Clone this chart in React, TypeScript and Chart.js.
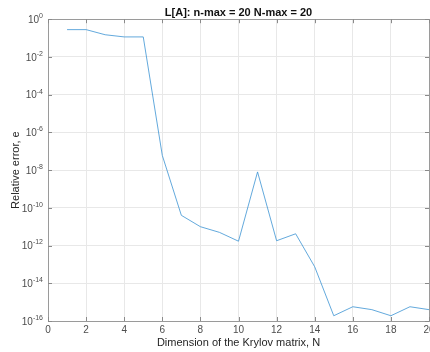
import React, { useEffect, useRef } from 'react';
import { Chart, registerables } from 'chart.js';

Chart.register(...registerables);

const nValues = [1, 2, 3, 4, 5, 6, 7, 8, 9, 10, 11, 12, 13, 14, 15, 16, 17, 18, 19, 20];
const relErrors = [
  0.28, 0.28, 0.15, 0.115, 0.115, 6e-8, 4e-11, 1e-11, 5e-12, 1.7e-12,
  8e-9, 1.8e-12, 4.2e-12, 7.5e-14, 1.9e-16, 5.7e-16, 4e-16, 1.9e-16, 5.7e-16, 4e-16,
];
const yTickExponents = [0, -2, -4, -6, -8, -10, -12, -14, -16];
const xTickValues = [0, 2, 4, 6, 8, 10, 12, 14, 16, 18, 20];

const titleText = 'L[A]: n-max = 20 N-max = 20';
const xLabel = 'Dimension of the Krylov matrix, N';
const yLabel = 'Relative error, e';

const FONT = "'Liberation Sans', Arial, Helvetica, sans-serif";
const AXIS_COLOR = '#9a9a9a';
const GRID_COLOR = '#e8e8e8';
const TICK_TEXT = '#4d4d4d';

const framePlugin = {
  id: 'matlabFrame',
  afterDraw(chart: any) {
    const { ctx, chartArea } = chart;
    const xs = chart.scales.x;
    const ys = chart.scales.y;
    const { left, right, top, bottom } = chartArea;
    ctx.save();
    // frame top and right
    ctx.strokeStyle = AXIS_COLOR;
    ctx.lineWidth = 1;
    ctx.beginPath();
    ctx.moveTo(left, Math.round(top) + 0.5);
    ctx.lineTo(right + 0.5, Math.round(top) + 0.5);
    ctx.lineTo(Math.round(right) + 0.5, bottom);
    ctx.stroke();
    // inward ticks
    ctx.strokeStyle = '#8a8a8a';
    ctx.beginPath();
    const tl = 4;
    xTickValues.forEach((v) => {
      const px = Math.round(xs.getPixelForValue(v)) + 0.5;
      ctx.moveTo(px, bottom);
      ctx.lineTo(px, bottom - tl);
      ctx.moveTo(px, top);
      ctx.lineTo(px, top + tl);
    });
    yTickExponents.forEach((e) => {
      const py = Math.round(ys.getPixelForValue(Math.pow(10, e))) + 0.5;
      ctx.moveTo(left, py);
      ctx.lineTo(left + tl, py);
      ctx.moveTo(right, py);
      ctx.lineTo(right - tl, py);
    });
    ctx.stroke();
    // y tick labels 10^e
    ctx.fillStyle = TICK_TEXT;
    ctx.textBaseline = 'middle';
    ctx.textAlign = 'left';
    yTickExponents.forEach((e) => {
      const py = ys.getPixelForValue(Math.pow(10, e));
      const expText = String(e);
      ctx.font = `10px ${FONT}`;
      const w10 = ctx.measureText('10').width;
      ctx.font = `7px ${FONT}`;
      const wExp = ctx.measureText(expText).width;
      const x0 = left - 5 - w10 - wExp;
      ctx.font = `10px ${FONT}`;
      ctx.fillText('10', x0, py + 1);
      ctx.font = `7px ${FONT}`;
      ctx.fillText(expText, x0 + w10, py - 3);
    });
    ctx.restore();
  },
};

export default function App() {
  const canvasRef = useRef<HTMLCanvasElement | null>(null);

  useEffect(() => {
    const canvas = canvasRef.current;
    if (!canvas) return;
    const chart = new Chart(canvas, {
      type: 'line',
      data: {
        datasets: [
          {
            data: nValues.map((n, i) => ({ x: n, y: relErrors[i] })),
            borderColor: '#3b93d3',
            borderWidth: 0.8,
            pointRadius: 0,
            tension: 0,
            fill: false,
          },
        ],
      },
      options: {
        responsive: false,
        animation: false,
        devicePixelRatio: 1,
        layout: { padding: { left: 0, right: 21, top: 0, bottom: 0 } },
        plugins: {
          legend: { display: false },
          tooltip: { enabled: false },
          title: {
            display: true,
            text: titleText,
            color: '#111',
            fullSize: false,
            font: { family: FONT, size: 11, weight: 'bold' },
            padding: { top: 6, bottom: 0 },
          },
        },
        scales: {
          x: {
            type: 'linear',
            min: 0,
            max: 20,
            offset: false,
            afterFit: (scale: any) => {
              scale.height = 31;
            },
            afterBuildTicks: (scale: any) => {
              scale.ticks = xTickValues.map((v) => ({ value: v }));
            },
            ticks: {
              color: TICK_TEXT,
              font: { family: FONT, size: 10 },
              padding: 3,
              maxRotation: 0,
              autoSkip: false,
            },
            grid: { color: GRID_COLOR, drawTicks: false },
            border: { color: AXIS_COLOR },
            title: {
              display: true,
              text: xLabel,
              color: '#262626',
              font: { family: FONT, size: 11 },
              padding: { top: 0, bottom: 2 },
            },
          },
          y: {
            type: 'logarithmic',
            min: 1e-16,
            max: 1,
            afterFit: (scale: any) => {
              scale.width = 48;
            },
            afterBuildTicks: (scale: any) => {
              scale.ticks = yTickExponents.map((e) => ({ value: Math.pow(10, e) }));
            },
            ticks: { display: false },
            grid: { color: GRID_COLOR, drawTicks: false },
            border: { color: AXIS_COLOR },
            title: {
              display: true,
              text: yLabel,
              color: '#262626',
              font: { family: FONT, size: 11 },
              padding: { top: 9, bottom: 0 },
            },
          },
        },
      } as any,
      plugins: [framePlugin],
    });
    return () => chart.destroy();
  }, []);

  return (
    <div
      style={{
        position: 'fixed',
        left: 0,
        top: 0,
        width: 430,
        height: 352,
        overflow: 'hidden',
        background: '#fff',
      }}
    >
      <canvas ref={canvasRef} width={450} height={352} style={{ display: 'block', width: 450, height: 352 }} />
    </div>
  );
}
